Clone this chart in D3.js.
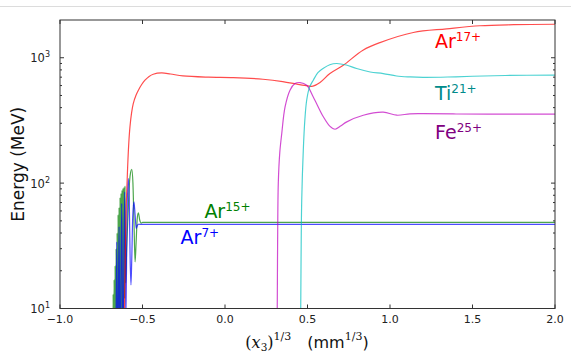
<!DOCTYPE html>
<html>
<head>
<meta charset="utf-8">
<script src="https://cdn.jsdelivr.net/npm/d3@7"></script>
<style>
  body { margin: 0; background: #fff; }
  svg { display: block; font-family: "DejaVu Sans", sans-serif; }
</style>
</head>
<body>
<div id="chart"></div>
<script>
// energy (MeV) against (x3)^(1/3) in mm^(1/3)
const ar17 = [
  [-0.612, 5], [-0.609, 10], [-0.604, 28], [-0.598, 70], [-0.590, 135],
  [-0.583, 210], [-0.576, 281], [-0.566, 365], [-0.556, 431], [-0.540, 500],
  [-0.525, 551], [-0.505, 612], [-0.485, 662], [-0.460, 710], [-0.435, 739],
  [-0.384, 757], [-0.33, 742], [-0.255, 716], [-0.10, 700], [0.05, 695],
  [0.23, 674], [0.35, 645], [0.436, 615], [0.50, 596], [0.533, 593],
  [0.576, 634], [0.636, 748], [0.717, 871], [0.836, 1148], [0.939, 1320],
  [1.141, 1590], [1.343, 1700], [1.545, 1800], [1.75, 1835], [2.0, 1850]
];
const ti21 = [
  [0.457, 5], [0.459, 10], [0.461, 25], [0.465, 73], [0.4745, 183],
  [0.484, 320], [0.495, 458], [0.512, 580], [0.535, 662], [0.563, 760],
  [0.594, 820], [0.635, 880], [0.677, 900], [0.735, 875], [0.798, 820],
  [0.88, 770], [0.959, 748], [1.04, 715], [1.121, 703], [1.2, 698],
  [1.35, 702], [1.5, 712], [1.7, 722], [2.0, 728]
];
const fe25 = [
  [0.315, 5], [0.317, 12], [0.319, 35], [0.323, 100], [0.332, 175],
  [0.344, 249], [0.364, 405], [0.394, 551], [0.424, 622], [0.455, 634],
  [0.495, 604], [0.535, 487], [0.596, 338], [0.635, 285], [0.667, 269],
  [0.700, 285], [0.738, 308], [0.838, 348], [0.959, 368], [1.041, 348],
  [1.121, 357], [1.2, 358], [1.4, 356], [1.7, 355], [2.0, 355]
];
const ar15 = [
  [-0.681, 3], [-0.678, 13], [-0.675, 3], [-0.672, 17], [-0.669, 3], [-0.666, 22],
  [-0.663, 3], [-0.660, 30], [-0.657, 3], [-0.654, 40], [-0.651, 4], [-0.648, 56],
  [-0.645, 4], [-0.642, 64], [-0.639, 5], [-0.636, 77], [-0.633, 6], [-0.630, 83],
  [-0.627, 7], [-0.624, 88], [-0.621, 8], [-0.618, 91], [-0.615, 10], [-0.612, 93],
  [-0.609, 12], [-0.606, 95], [-0.602, 16], [-0.596, 30], [-0.588, 55], [-0.578, 105],
  [-0.572, 122], [-0.565, 129], [-0.558, 100], [-0.551, 45], [-0.545, 23.5], [-0.539, 33],
  [-0.532, 52], [-0.525, 58], [-0.517, 51], [-0.508, 48], [-0.50, 48.6], [2.0, 48.6]
];
const ar7 = [
  [-0.662, 3], [-0.656, 34], [-0.650, 3], [-0.642, 45], [-0.636, 3],
  [-0.626, 69], [-0.619, 4], [-0.608, 85], [-0.601, 8], [-0.594, 50],
  [-0.586, 109], [-0.580, 70], [-0.575, 25], [-0.570, 15.4],
  [-0.565, 25], [-0.559, 55], [-0.552, 71], [-0.545, 56], [-0.538, 43.6], [-0.531, 46],
  [-0.525, 47], [-0.50, 46.9], [2.0, 46.9]
];

const xTicks = [-1.0, -0.5, 0.0, 0.5, 1.0, 1.5, 2.0];
const yTicks = [10, 100, 1000];
const yMinor = [20, 30, 40, 50, 60, 70, 80, 90, 200, 300, 400, 500, 600, 700, 800, 900];

const W = 571, H = 355;
const pLeft = 60, pRight = 555, pTop = 20, pBottom = 308.5;

let svg = d3.select("#chart").append("svg")
  .attr("width", W)
  .attr("height", H);

// thin grey rule at the very top of the screenshot
svg.append("line")
  .attr("x1", 0).attr("x2", W).attr("y1", 6.5).attr("y2", 6.5)
  .attr("stroke", "#dcdcdc").attr("stroke-width", 1);

let x = d3.scaleLinear().domain([-1, 2]).range([pLeft, pRight]);
let y = d3.scaleLog().domain([10, 2000]).range([pBottom, pTop]);

svg.append("clipPath").attr("id", "plotclip")
  .append("rect")
  .attr("x", pLeft).attr("y", pTop)
  .attr("width", pRight - pLeft).attr("height", pBottom - pTop);

let zigzag = d3.line()
  .x(d => x(d[0]))
  .y(d => y(d[1]))
  .curve(d3.curveMonotoneX);
let smooth = d3.line()
  .x(d => x(d[0]))
  .y(d => y(d[1]))
  .curve(d3.curveCatmullRom.alpha(0.5));

let series = [
  {data: ar15, color: "#008000", line: zigzag},
  {data: ar7, color: "#0000ff", line: zigzag},
  {data: ar17, color: "#ff0000", line: smooth},
  {data: fe25, color: "#bf00bf", line: smooth},
  {data: ti21, color: "#00bfbf", line: smooth}
];

let plot = svg.append("g").attr("clip-path", "url(#plotclip)");
series.forEach(s => {
  plot.append("path")
    .datum(s.data)
    .attr("d", s.line)
    .attr("fill", "none")
    .attr("stroke", s.color)
    .attr("stroke-opacity", 0.7)
    .attr("stroke-width", 1.2);
});

// frame
svg.append("rect")
  .attr("x", pLeft).attr("y", pTop)
  .attr("width", pRight - pLeft).attr("height", pBottom - pTop)
  .attr("fill", "none").attr("stroke", "#333").attr("stroke-width", 1);

// ticks pointing inward on all four sides
let ticks = svg.append("g").attr("stroke", "#333").attr("stroke-width", 1);
xTicks.forEach(t => {
  ticks.append("line").attr("x1", x(t)).attr("x2", x(t)).attr("y1", pBottom).attr("y2", pBottom - 4);
  ticks.append("line").attr("x1", x(t)).attr("x2", x(t)).attr("y1", pTop).attr("y2", pTop + 4);
});
yTicks.forEach(t => {
  ticks.append("line").attr("x1", pLeft).attr("x2", pLeft + 4).attr("y1", y(t)).attr("y2", y(t));
  ticks.append("line").attr("x1", pRight).attr("x2", pRight - 4).attr("y1", y(t)).attr("y2", y(t));
});
yMinor.forEach(t => {
  ticks.append("line").attr("x1", pLeft).attr("x2", pLeft + 2).attr("y1", y(t)).attr("y2", y(t));
  ticks.append("line").attr("x1", pRight).attr("x2", pRight - 2).attr("y1", y(t)).attr("y2", y(t));
});

// x tick labels
svg.append("g").selectAll("text")
  .data(xTicks)
  .join("text")
  .attr("x", d => x(d))
  .attr("y", 323)
  .attr("text-anchor", "middle")
  .attr("font-size", 11)
  .attr("fill", "#222")
  .text(d => d3.format(".1f")(d).replace("-", "\u2212"));

// text with a superscript
function supText(parent, px, py, base, sup, size, supSize, color, anchor, shift) {
  let t = parent.append("text")
    .attr("x", px).attr("y", py)
    .attr("font-size", size)
    .attr("fill", color)
    .attr("text-anchor", anchor || "start");
  t.append("tspan").text(base);
  t.append("tspan").attr("font-size", supSize).attr("dy", -shift).text(sup);
  return t;
}

yTicks.forEach(t => {
  supText(svg, pLeft - 10, y(t) + 4.5, "10", String(Math.round(Math.log10(t))), 11.5, 8, "#222", "end", 5);
});

// y axis title
svg.append("text")
  .attr("transform", `translate(24,${(pTop + pBottom) / 2}) rotate(-90)`)
  .attr("text-anchor", "middle")
  .attr("font-size", 17)
  .attr("fill", "#111")
  .text("Energy (MeV)");

// x axis title: (x_3)^{1/3}  (mm^{1/3})
let xt = svg.append("text")
  .attr("x", 307)
  .attr("y", 347.5)
  .attr("text-anchor", "middle")
  .attr("font-size", 16)
  .attr("fill", "#111");
xt.append("tspan").attr("font-family", "DejaVu Serif").text("(");
xt.append("tspan").attr("font-family", "DejaVu Serif").attr("font-style", "italic").text("x");
xt.append("tspan").attr("font-family", "DejaVu Serif").attr("font-size", 10.5).attr("dy", 3).text("3");
xt.append("tspan").attr("font-family", "DejaVu Serif").attr("dy", -3).text(")");
xt.append("tspan").attr("font-family", "DejaVu Serif").attr("font-size", 11).attr("dy", -7.5).text("1/3");
xt.append("tspan").attr("dy", 7.5).attr("dx", 16).text("(mm");
xt.append("tspan").attr("font-family", "DejaVu Serif").attr("font-size", 11).attr("dy", -7.5).text("1/3");
xt.append("tspan").attr("dy", 7.5).text(")");

// ion labels
const ionLabels = [
  {base: "Ar", sup: "17+", lx: 1.273, ly: 47.7, color: "#ff0000"},
  {base: "Ti", sup: "21+", lx: 1.273, ly: 100, color: "#008b8b"},
  {base: "Fe", sup: "25+", lx: 1.273, ly: 139.3, color: "#800080"},
  {base: "Ar", sup: "15+", lx: -0.125, ly: 218.3, color: "#008000"},
  {base: "Ar", sup: "7+", lx: -0.269, ly: 244, color: "#0000ff"}
];
ionLabels.forEach(l => {
  supText(svg, x(l.lx), l.ly, l.base, l.sup, 19, 12, l.color, "start", 7);
});
</script>
</body>
</html>
